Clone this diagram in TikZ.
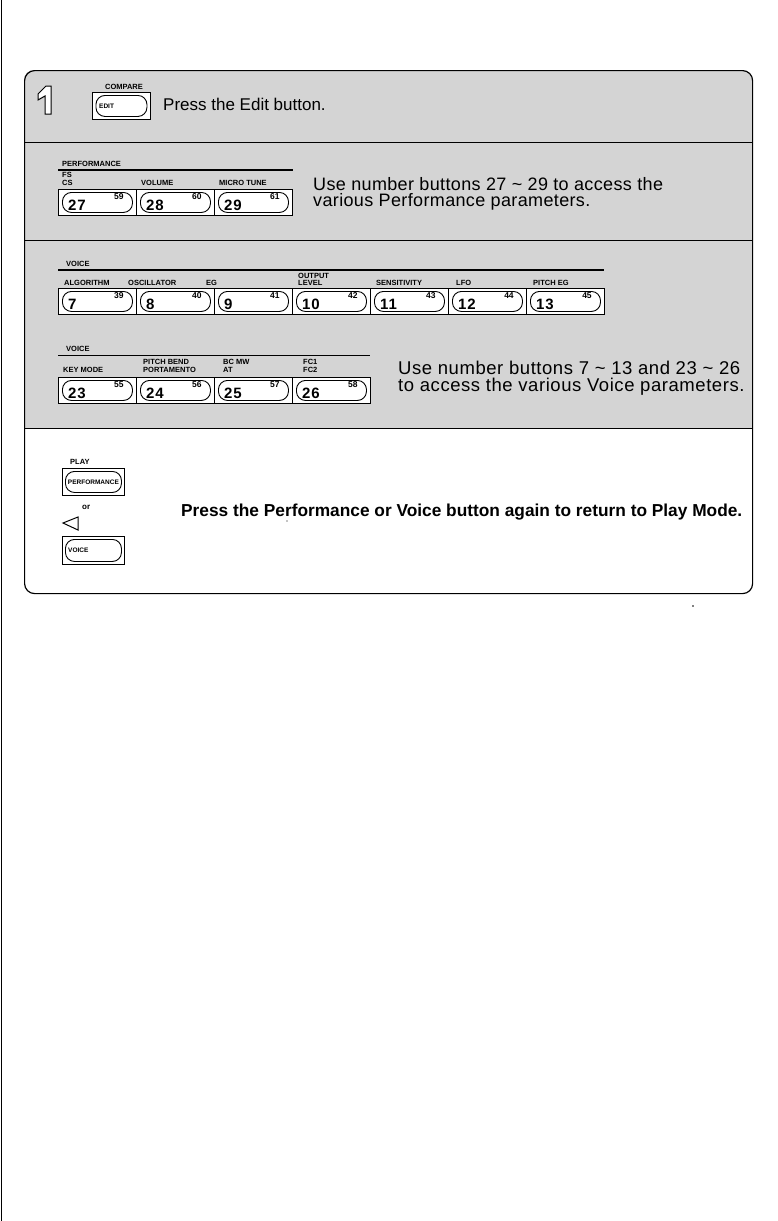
\documentclass[tikz,border=0pt]{standalone}
\usepackage{fontspec}
\setmainfont{Liberation Sans}
\usetikzlibrary{calc}
\tikzset{
  lbl/.style={font=\bfseries\fontsize{7.5}{7.5}\selectfont, inner sep=0, anchor=base west},
  outerbtn/.style={draw, line width=0.9pt, fill=white, inner sep=0, rectangle, anchor=north west},
  innerbtn/.style={draw, line width=0.9pt, rounded corners=9pt, inner sep=0, rectangle},
  bignum/.style={font=\bfseries\fontsize{15}{15}\selectfont\addfontfeature{LetterSpace=6}, inner sep=0, anchor=base west},
  supnum/.style={font=\bfseries\fontsize{8.5}{8.5}\selectfont, inner sep=0, anchor=north east},
  maintext/.style={inner sep=0, anchor=west, align=left},
  thickrule/.style={line width=1.2pt},
  thinrule/.style={line width=0.6pt},
  secline/.style={line width=1pt},
  shade/.style={fill=black!17},
}
\newcommand\numbutton[6]{%
  \node[outerbtn, minimum width=#4pt, minimum height=26pt] (#1) at (#2,#3) {};
  \node[innerbtn, minimum width=#4pt-8pt, minimum height=20pt] (#1i) at (#1.center) {};
  \node[bignum] (#1n) at ($(#1.south west)+(10,-5)$) {#5};
  \node[supnum] (#1s) at ($(#1.north east)+(-13,4)$) {#6};
}
\begin{document}
\begin{tikzpicture}[x=1pt,y=-1pt]
\useasboundingbox (0,0) rectangle (778,1221);
\fill[white] (0,0) rectangle (778,1221);
\draw[line width=0.8pt] (1.5,0) -- (1.5,1221);
% shaded upper part
\begin{scope}
  \clip[rounded corners=10pt] (24,70) rectangle (752,593);
  \fill[shade] (24,70) rectangle (752,428);
\end{scope}
\node[draw, line width=1.2pt, rounded corners=10pt, minimum width=728pt, minimum height=523pt, anchor=north west, inner sep=0] (frame) at (24,70) {};
\draw[secline] (24,142) -- (752,142);
\draw[secline] (24,240) -- (752,240);
\draw[secline] (24,428) -- (752,428);

% ---- step 1
\draw[line width=1pt, fill=white] (38,94) -- (46,86) -- (51,86) -- (51,114) -- (45,114) -- (45,96) -- (38,100) -- cycle;
\node[lbl, anchor=base] (cmp) at (124,89) {COMPARE};
\node[outerbtn, minimum width=58pt, minimum height=27pt] (edit) at (92,92) {};
\node[innerbtn, minimum width=51pt, minimum height=21pt] (editi) at (edit.center) {};
\node[lbl, anchor=west, font=\bfseries\fontsize{6.5}{6.5}\selectfont] (editt) at (99,106) {EDIT};
\node[maintext, font=\fontsize{17}{15}\selectfont] (t1) at (163,104) {Press the Edit button.};

% ---- performance
\node[lbl] (perf) at (62,166) {PERFORMANCE};
\draw[thickrule] (58,170) -- (293,170);
\node[lbl] (fs) at (62,177) {FS};
\node[lbl] (cs) at (62,185) {CS};
\node[lbl] (vol) at (141,185) {VOLUME};
\node[lbl] (mt) at (219,185) {MICRO TUNE};
\numbutton{b27}{58}{189}{78}{27}{59}
\numbutton{b28}{136}{189}{78}{28}{60}
\numbutton{b29}{214}{189}{78}{29}{61}
\node[maintext, font=\fontsize{18}{16.5}\selectfont\addfontfeature{LetterSpace=2}] (t2) at (313,194) {Use number buttons 27 \textasciitilde{} 29 to access the\\various Performance parameters.};

% ---- voice row 1
\node[lbl] (v1) at (66,266) {VOICE};
\draw[thickrule] (58,270) -- (604,270);
\node[lbl] (l7) at (64,285) {ALGORITHM};
\node[lbl] (l8) at (128,285) {OSCILLATOR};
\node[lbl] (l9) at (206,285) {EG};
\node[lbl] (l10a) at (298,278) {OUTPUT};
\node[lbl] (l10b) at (298,285) {LEVEL};
\node[lbl] (l11) at (376,285) {SENSITIVITY};
\node[lbl] (l12) at (456,285) {LFO};
\node[lbl] (l13) at (533,285) {PITCH EG};
\numbutton{b7}{58}{288}{78}{7}{39}
\numbutton{b8}{136}{288}{78}{8}{40}
\numbutton{b9}{214}{288}{78}{9}{41}
\numbutton{b10}{292}{288}{78}{10}{42}
\numbutton{b11}{370}{288}{78}{11}{43}
\numbutton{b12}{448}{288}{78}{12}{44}
\numbutton{b13}{526}{288}{78}{13}{45}

% ---- voice row 2
\node[lbl] (v2) at (66,351) {VOICE};
\draw[thinrule] (58,355) -- (370,355);
\node[lbl] (l23) at (63,372) {KEY MODE};
\node[lbl] (l24a) at (143,364) {PITCH BEND};
\node[lbl] (l24b) at (143,372) {PORTAMENTO};
\node[lbl] (l25a) at (223,364) {BC MW};
\node[lbl] (l25b) at (223,372) {AT};
\node[lbl] (l26a) at (303,364) {FC1};
\node[lbl] (l26b) at (303,372) {FC2};
\numbutton{b23}{58}{377}{78}{23}{55}
\numbutton{b24}{136}{377}{78}{24}{56}
\numbutton{b25}{214}{377}{78}{25}{57}
\numbutton{b26}{292}{377}{78}{26}{58}
\node[maintext, font=\fontsize{18.5}{17}\selectfont\addfontfeature{LetterSpace=3}] (t3) at (398,378) {Use number buttons 7 \textasciitilde{} 13 and 23 \textasciitilde{} 26\\to access the various Voice parameters.};

% ---- return
\node[lbl] (play) at (70,464) {PLAY};
\node[outerbtn, minimum width=62pt, minimum height=27pt] (pbtn) at (62,468) {};
\node[innerbtn, minimum width=56pt, minimum height=21pt] (pbtni) at (pbtn.center) {};
\node[font=\bfseries\fontsize{6.5}{6.5}\selectfont, inner sep=0] (pbtnt) at (pbtn.center) {PERFORMANCE};
\node[font=\bfseries\fontsize{8}{8}\selectfont, inner sep=0, anchor=base west] (or) at (82,509) {or};
\draw[line width=1pt] (63,523) -- (78,517) -- (78,530) -- cycle;
\node[outerbtn, minimum width=62pt, minimum height=28pt] (vbtn) at (62,536) {};
\node[innerbtn, minimum width=56pt, minimum height=22pt] (vbtni) at (vbtn.center) {};
\node[lbl, anchor=west, font=\bfseries\fontsize{6.5}{6.5}\selectfont] (vbtnt) at (68,550) {VOICE};
\node[inner sep=0, anchor=west, font=\bfseries\fontsize{17.3}{17.3}\selectfont] (t4) at (181,512) {Press the Performance or Voice button again to return to Play Mode.};
\fill (287,521) circle (0.7);
\fill (693,606) circle (0.8);
\end{tikzpicture}
\end{document}
